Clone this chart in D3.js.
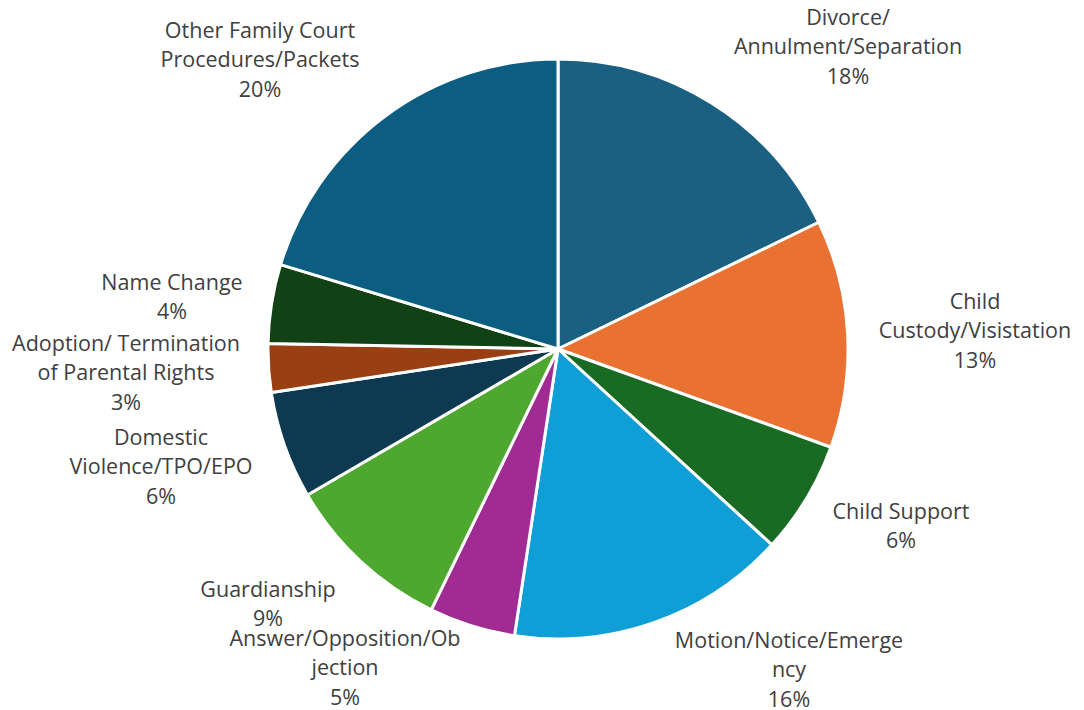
<!DOCTYPE html>
<html>
<head>
<meta charset="utf-8">
<script src="https://cdn.jsdelivr.net/npm/d3@7"></script>
<style>
  html, body { margin: 0; padding: 0; background: #ffffff; }
  svg { display: block; }
</style>
</head>
<body>
<svg id="chart" width="1084" height="710"></svg>
<script>
// ---- data ----
const categories = [
  "Divorce/ Annulment/Separation",
  "Child Custody/Visistation",
  "Child Support",
  "Motion/Notice/Emergency",
  "Answer/Opposition/Objection",
  "Guardianship",
  "Domestic Violence/TPO/EPO",
  "Adoption/ Termination of Parental Rights",
  "Name Change",
  "Other Family Court Procedures/Packets"
];
const values = [17.8, 12.7, 6.3, 15.6, 4.8, 9.4, 6.0, 2.7, 4.4, 20.3];
// label line breaks as shown in chart
const labelLines = [
  ["Divorce/", "Annulment/Separation"],
  ["Child", "Custody/Visistation"],
  ["Child Support"],
  ["Motion/Notice/Emerge", "ncy"],
  ["Answer/Opposition/Ob", "jection"],
  ["Guardianship"],
  ["Domestic", "Violence/TPO/EPO"],
  ["Adoption/ Termination", "of Parental Rights"],
  ["Name Change"],
  ["Other Family Court", "Procedures/Packets"]
];
const colors = ["#1a6083", "#e97132", "#196b24", "#0f9ed5", "#a02b93",
                "#4ea72e", "#0e3a51", "#9a3f12", "#124116", "#0b5e82"];

// ---- layout ----
const cx = 558, cy = 349, R = 290;
// label block centres (first line) relative to pie centre
const labelPos = [
  [290, -332], [417, -48], [343, 162], [231, 291], [-213, 289],
  [-290, 240], [-397, 88], [-432, -6], [-386, -67], [-298, -319]
];
const lineH = 29.5;

const svg = d3.select("#chart");
const g = svg.append("g").attr("transform", `translate(${cx},${cy})`);

const pie = d3.pie().sort(null).value(d => d)(values);
const arc = d3.arc().innerRadius(0).outerRadius(R);
const color = d3.scaleOrdinal().domain(categories).range(colors);
const total = d3.sum(values);

g.selectAll("path.slice")
  .data(pie)
  .join("path")
  .attr("class", "slice")
  .attr("d", arc)
  .attr("fill", (d, i) => color(categories[i]))
  .attr("stroke", "#ffffff")
  .attr("stroke-width", 3)
  .attr("stroke-linejoin", "round");

const labels = g.selectAll("text.lbl")
  .data(pie)
  .join("text")
  .attr("class", "lbl")
  .attr("text-anchor", "middle")
  .attr("font-family", "'Open Sans', Lato, sans-serif")
  .attr("font-size", 21.5)
  .attr("fill", "#404040")
  .attr("transform", (d, i) => `translate(${labelPos[i][0]},${labelPos[i][1]})`);

labels.each(function(d, i) {
  const t = d3.select(this);
  const lines = labelLines[i].concat([Math.round(d.value / total * 100) + "%"]);
  lines.forEach((ln, k) => {
    t.append("tspan")
      .attr("x", 0)
      .attr("y", k * lineH)
      .attr("dy", "0.35em")
      .text(ln);
  });
});
</script>
</body>
</html>
